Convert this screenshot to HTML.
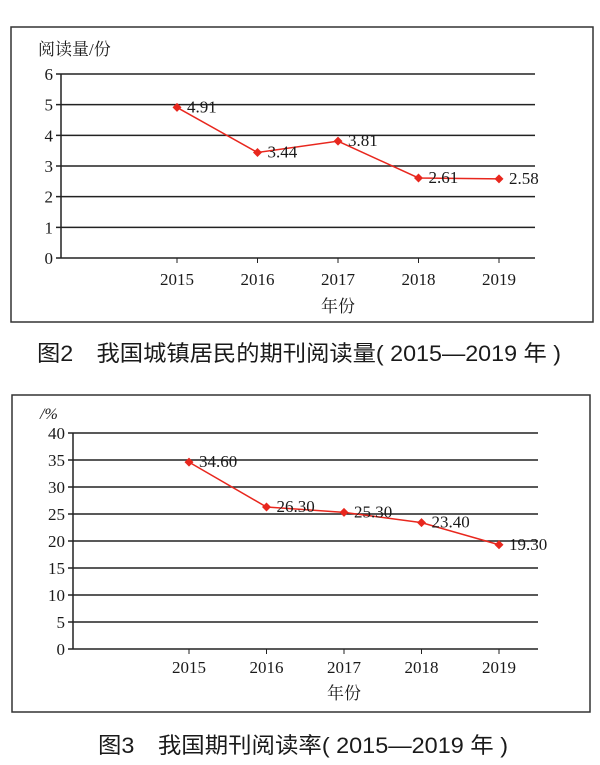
<!DOCTYPE html>
<html><head><meta charset="utf-8"><style>
body{margin:0;background:#fff;width:600px;height:760px;overflow:hidden}
svg text{font-family:"Liberation Serif","Noto Serif CJK SC",serif;fill:#1a1a1a}
.cap{font-family:"Liberation Sans","Noto Sans CJK SC",sans-serif;font-size:22px;fill:#1a1a1a}
</style></head><body>
<svg id="s" width="600" height="760">
<rect x="11" y="27" width="582" height="295" fill="none" stroke="#333" stroke-width="1.5"/>
<rect x="12" y="395" width="578" height="317" fill="none" stroke="#333" stroke-width="1.5"/>
<text x="38" y="55" font-size="17">阅读量/份</text>
<text x="40" y="419" font-size="16" font-style="italic">/%</text>
<text class="cap" x="37" y="361" textLength="524" lengthAdjust="spacingAndGlyphs">图2　我国城镇居民的期刊阅读量( 2015—2019 年 )</text>
<text class="cap" x="98" y="753" textLength="410" lengthAdjust="spacingAndGlyphs">图3　我国期刊阅读率( 2015—2019 年 )</text>
<g id="c1"></g><g id="c2"></g>
</svg>
<script>
const years = ["2015","2016","2017","2018","2019"];
const volume = [4.91, 3.44, 3.81, 2.61, 2.58];
const volumeLabels = ["4.91","3.44","3.81","2.61","2.58"];
const volumeTicks = [0,1,2,3,4,5,6];
const rate = [34.6, 26.3, 25.3, 23.4, 19.3];
const rateLabels = ["34.60","26.30","25.30","23.40","19.30"];
const rateTicks = [0,5,10,15,20,25,30,35,40];
const NS="http://www.w3.org/2000/svg";
function mk(p,t,a){const e=document.createElementNS(NS,t);for(const k in a)e.setAttribute(k,a[k]);p.appendChild(e);return e;}
function draw(g,cfg,vals,labs,ticks){
  const y=v=>cfg.y0-(v-ticks[0])/(ticks[ticks.length-1]-ticks[0])*(cfg.y0-cfg.y1);
  const x=i=>cfg.x0+i*cfg.dx;
  ticks.forEach(t=>{
    const l=mk(g,'line',{x1:cfg.ax-5,x2:cfg.right,y1:y(t),y2:y(t),stroke:'#222','stroke-width':1.5});
    
    
    const tx=mk(g,'text',{x:cfg.ax-8,y:y(t)+6,'font-size':17,'text-anchor':'end'});tx.textContent=t;
    
    
  });
  const ax=mk(g,'line',{x1:cfg.ax,x2:cfg.ax,y1:y(ticks[ticks.length-1]),y2:y(ticks[0]),stroke:'#222','stroke-width':1.5});
  
  
  years.forEach((yr,i)=>{
    const tk=mk(g,'line',{x1:x(i),x2:x(i),y1:y(ticks[0]),y2:y(ticks[0])+5,stroke:'#222'});
    
    
    const t=mk(g,'text',{x:x(i),y:cfg.yl,'font-size':17,'text-anchor':'middle'});t.textContent=yr;
    
    
  });
  const xt=mk(g,'text',{x:x(2),y:cfg.yt,'font-size':17,'text-anchor':'middle'});xt.textContent='年份';
  
  
  const pl=mk(g,'polyline',{points:vals.map((v,i)=>x(i)+','+y(v)).join(' '),fill:'none',stroke:'#e8271e','stroke-width':1.5});
  
  
  vals.forEach((v,i)=>{
    const px=x(i),py=y(v);
    const d=mk(g,'polygon',{points:`${px},${py-4.5} ${px+4.5},${py} ${px},${py+4.5} ${px-4.5},${py}`,fill:'#e8271e'});
    
    
    const t=mk(g,'text',{x:px+10,y:py+5,'font-size':17});t.textContent=labs[i];
    
    
  });
}
draw(document.getElementById('c1'),{ax:61,right:535,x0:177,dx:80.5,y0:258,y1:74,yl:285,yt:312},volume,volumeLabels,volumeTicks);
draw(document.getElementById('c2'),{ax:73,right:538,x0:189,dx:77.5,y0:649,y1:433,yl:673,yt:699},rate,rateLabels,rateTicks);
</script>
</body></html>
